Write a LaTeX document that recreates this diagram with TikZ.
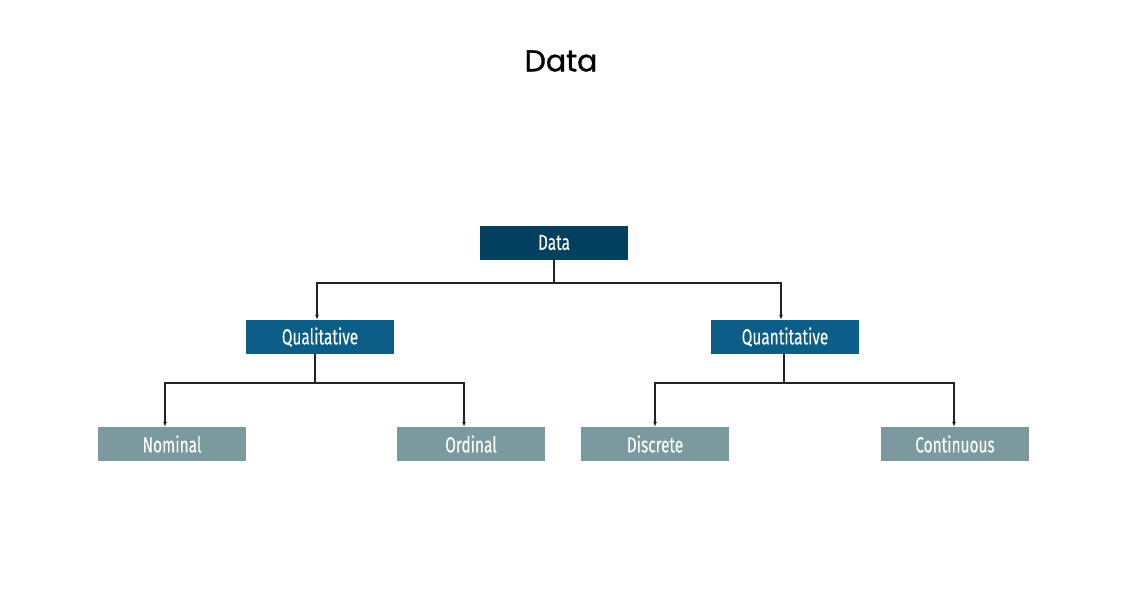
\documentclass[tikz,border=0pt]{standalone}
\usepackage{fontspec}
\setmainfont{Fira Sans}
\newfontfamily\titlefont[FakeBold=1.2]{Poppins}
\newfontfamily\boxfont[FakeStretch=0.7,FakeBold=0.1]{Fira Sans}
\usetikzlibrary{calc,arrows.meta}
\definecolor{cdark}{RGB}{2,64,96}
\definecolor{cmid}{RGB}{12,94,136}
\definecolor{cgrey}{RGB}{122,154,160}
\definecolor{cline}{RGB}{34,34,34}
\tikzset{
  box/.style={minimum width=148, minimum height=34, inner sep=0, text=white,
    font=\boxfont\fontsize{22}{22}\selectfont},
  lvl0/.style={box, fill=cdark},
  lvl1/.style={box, fill=cmid},
  lvl2/.style={box, fill=cgrey},
  conn/.style={draw=cline, line width=1.5},
  arr/.style={conn, -{Latex[length=5,width=4]}}
}
\begin{document}
\begin{tikzpicture}[x=1pt,y=-1pt]
\useasboundingbox (0,0) rectangle (1122,597);
\node[font=\titlefont\fontsize{30}{30}\selectfont] (title) at (561,61) {Data};
\node[lvl0] (data) at (554,242.5) {\raisebox{-1pt}{Data}};
\node[lvl1] (qual) at (320,337) {\raisebox{-1pt}{Qualitative}};
\node[lvl1] (quan) at (785,337) {\raisebox{-1pt}{Quantitative}};
\node[lvl2] (nom) at (172,444) {Nominal};
\node[lvl2] (ord) at (471,444) {Ordinal};
\node[lvl2] (dis) at (655,444) {Discrete};
\node[lvl2] (con) at (955,444) {Continuous};
% junctions
\coordinate (b0) at (554,283);
\coordinate (b1) at (315,383);
\coordinate (b2) at (784,383);
\coordinate (qualin) at ($(qual.north)+(-3,0)$);
\coordinate (quanin) at ($(quan.north)+(-4,0)$);
\coordinate (nomin) at ($(nom.north)+(-7,0)$);
\coordinate (ordin) at ($(ord.north)+(-7,0)$);
\coordinate (disin) at ($(dis.north)+(0,0)$);
\coordinate (conin) at ($(con.north)+(-1,0)$);
\coordinate (qualout) at ($(qual.south)+(-5,0)$);
\coordinate (quanout) at ($(quan.south)+(-1,0)$);
\draw[conn] (data.south) -- (b0);
\draw[arr] (b0) -| (qualin);
\draw[arr] (b0) -| (quanin);
\draw[conn] (qualout) -- (b1);
\draw[arr] (b1) -| (nomin);
\draw[arr] (b1) -| (ordin);
\draw[conn] (quanout) -- (b2);
\draw[arr] (b2) -| (disin);
\draw[arr] (b2) -| (conin);
\end{tikzpicture}
\end{document}
